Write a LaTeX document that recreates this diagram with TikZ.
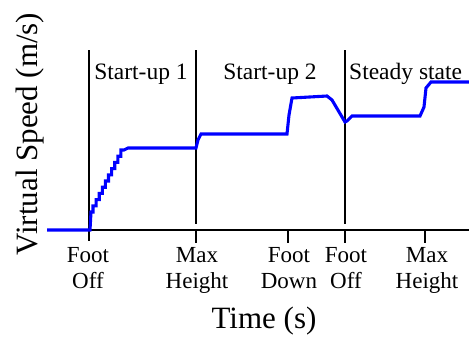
\documentclass[tikz,border=0pt]{standalone}
\usepackage{fontspec}
\setmainfont{Liberation Serif}
\usetikzlibrary{positioning}
\tikzset{
  speed/.style={draw=blue, line width=3.1pt, line join=miter},
  phase/.style={line width=1.3pt},
  event/.style={align=center, anchor=north, inner sep=0pt, font=\fontsize{23}{26}\selectfont},
  title/.style={inner sep=0pt, anchor=base, font=\fontsize{23.5}{26}\selectfont},
  axislabel/.style={inner sep=0pt, anchor=base, font=\fontsize{31}{34}\selectfont}
}

\begin{document}
\begin{tikzpicture}[x=1pt,y=-1pt]
    \useasboundingbox (0,0) rectangle (469,341);
    % axis and phase borders
    \draw[phase] (48,230) -- (469,230);
    \draw[phase] (89,50) -- (89,241);
    \draw[phase] (196,50) -- (196,224);
    \draw[phase] (345,50) -- (345,224);
    \draw[phase] (196,230) -- (196,243);
    \draw[phase] (288,230) -- (288,243);
    \draw[phase] (345,230) -- (345,243);
    \draw[phase] (425,230) -- (425,243);
    % virtual speed
    \draw[speed] (47,230) -- (90,230) -- (91,212) -- (93,212)
        \foreach \k in {1,...,10} { -- ++(0,-6.2) -- ++(3.1,0) }
        -- (128,148) -- (196,148) -- (198,140) -- (201,134) -- (287,134)
        -- (289,115) -- (292,98) -- (327,96) -- (332,100) -- (345,122)
        -- (347,121) -- (352,116) -- (420,116) -- (424,107) -- (426,88)
        -- (431,82) -- (469,82);
    % labels
    \node[title] (su1) at (141,79) {Start-up 1};
    \node[title] (su2) at (270,79) {Start-up 2};
    \node[title,anchor=base west] (ss) at (349,79) {Steady state};
    \node[event] (fo1) at (88,247) {Foot\\Off};
    \node[event] (mh1) at (197,247) {Max\\Height};
    \node[event] (fd) at (289,247) {Foot\\Down};
    \node[event] (fo2) at (346,247) {Foot\\Off};
    \node[event] (mh2) at (427,247) {Max\\Height};
    \node[axislabel] (tlab) at (264,328) {Time (s)};
    \node[axislabel,rotate=90] (vlab) at (37,134) {Virtual Speed (m/s)};
\end{tikzpicture}
\end{document}
